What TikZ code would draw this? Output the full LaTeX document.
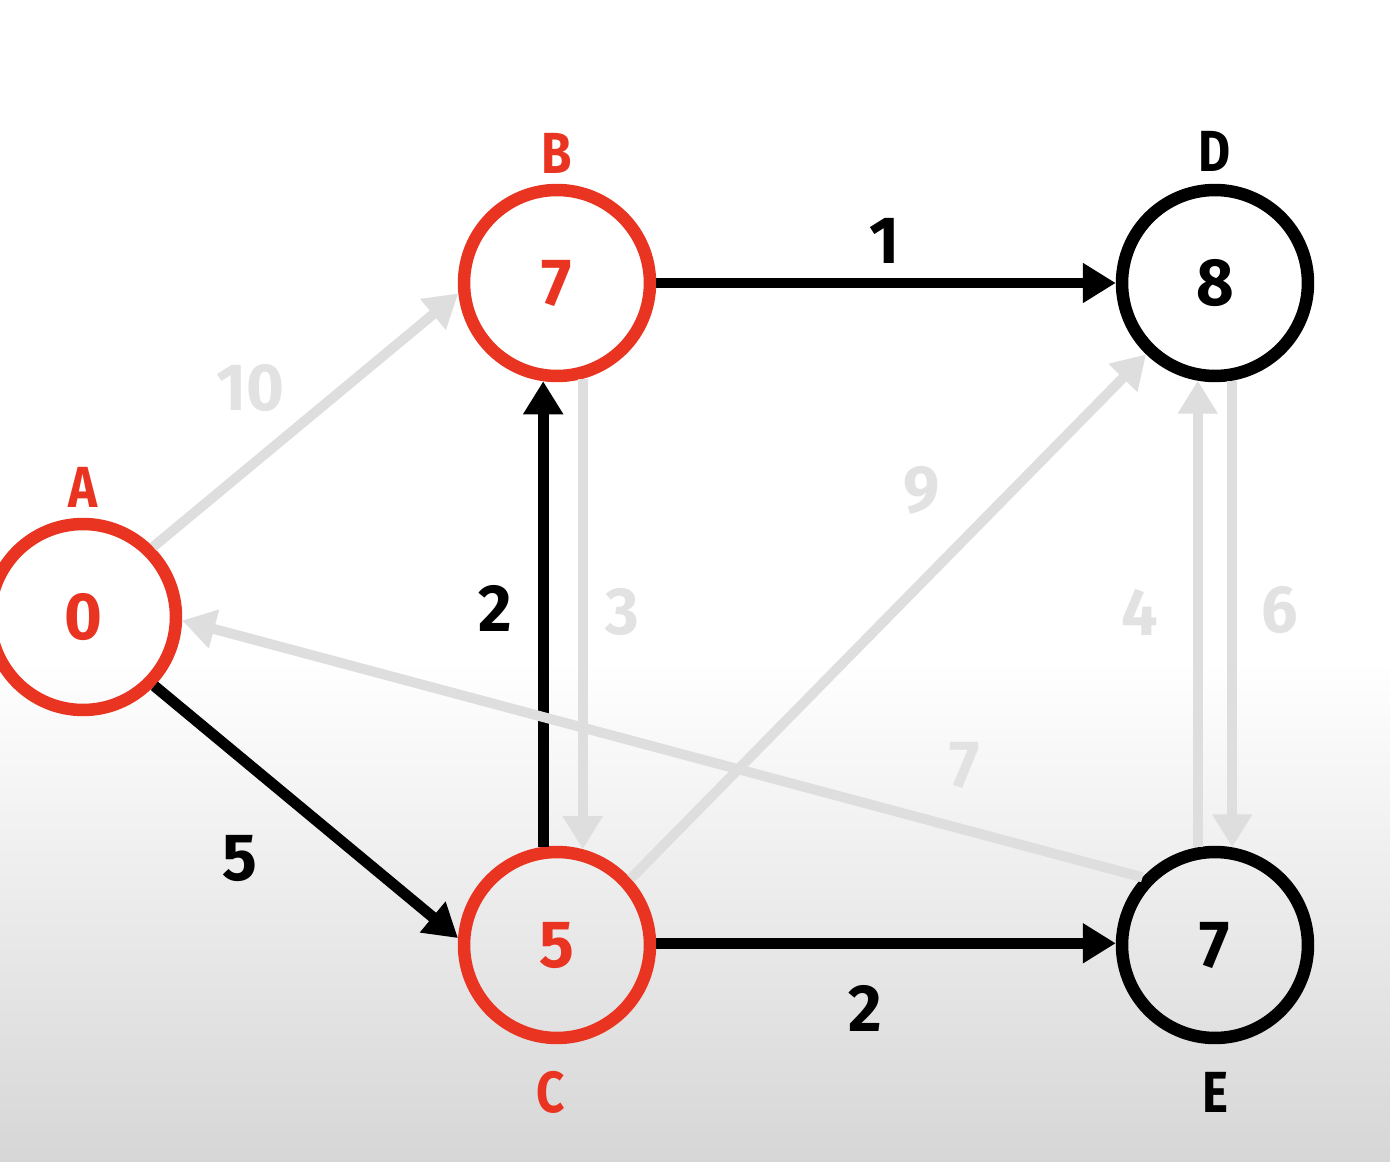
\documentclass[tikz,border=0pt]{standalone}
\usepackage{fontspec}
\newfontfamily\lblfont{Fira Sans}[FakeStretch=0.85]
\newfontfamily\numfont{Fira Sans}[FakeStretch=0.97]
\usetikzlibrary{arrows.meta}
\definecolor{vred}{RGB}{234,52,34}
\definecolor{faint}{RGB}{222,222,222}
\definecolor{faintlbl}{RGB}{226,226,226}
\begin{document}
\begin{tikzpicture}[x=0.02cm,y=-0.02cm,
  vertex/.style={circle,draw,line width=0.25cm,minimum size=3.72cm,inner sep=0pt,
    font=\numfont\bfseries\fontsize{38}{40}\selectfont},
  vname/.style={font=\lblfont\bfseries\fontsize{33}{36}\selectfont},
  wlbl/.style={font=\numfont\bfseries\fontsize{38}{40}\selectfont},
  blk/.style={draw=black,line width=0.22cm,-{Triangle[length=0.66cm,width=0.76cm]}},
  gry/.style={draw=faint,line width=0.2cm,-{Triangle[length=0.66cm,width=0.76cm]}},
  glbl/.style={wlbl,text=faintlbl}]
\useasboundingbox (0,0) rectangle (1390,1162);
\fill[white] (0,0) rectangle (1390,1162);
\shade[top color=white,bottom color=black!16] (0,660) rectangle (1390,1162);

\node[vertex,draw=vred,text=vred] (A) at (83,617) {0};
\node[vertex,draw=vred,text=vred] (B) at (557,283) {7};
\node[vertex,draw=vred,text=vred] (C) at (557,945) {5};
\node[vertex,draw=black] (D) at (1215,283) {8};
\node[vertex,draw=black] (E) at (1215,945) {7};

\node[vname,text=vred] (nA) at (83,487) {A};
\node[vname,text=vred] (nB) at (557,153) {B};
\node[vname,text=vred] (nC) at (551,1092) {C};
\node[vname] (nD) at (1215,151) {D};
\node[vname] (nE) at (1215,1092) {E};

% black edges
\draw[blk] (B.east) -- (D.west) node[wlbl] at (885,241) {1};
\draw[blk] (C.98) -- (B.262) node[wlbl] at (495,608) {2};
\draw[blk] (A.-44) -- (C.176) node[wlbl] at (240,858) {5};
\draw[blk] (C.1) -- (E.179) node[wlbl] at (865,1008) {2};

% faint edges
\draw[gry] (A.45) -- (B.186) node[glbl] at (250,388) {10};
\draw[gry] (B.285) -- (C.75) node[glbl] at (622,612) {3};
\draw[gry] (C.42) -- (D.226) node[glbl] at (922,490) {9};
\draw[gry] (E.100) -- (D.260) node[glbl] at (1140,612) {4};
\draw[gry] (D.280) -- (E.80) node[glbl] at (1280,610) {6};
\draw[gry] (E.137) -- (A.358) node[glbl] at (965,765) {7};
\end{tikzpicture}
\end{document}
